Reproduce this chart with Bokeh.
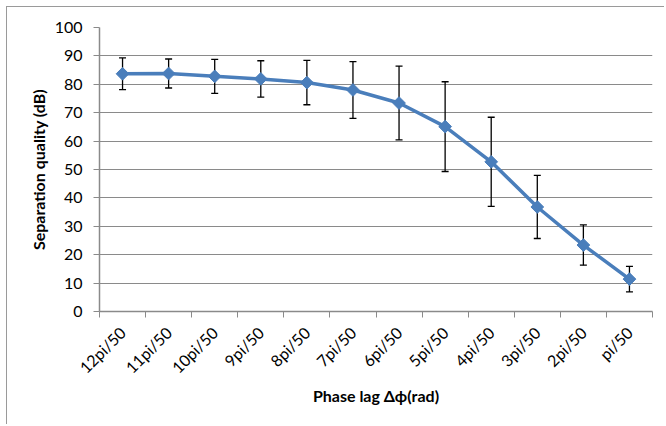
import numpy as np
from bokeh.plotting import figure
from bokeh.models import (ColumnDataSource, Range1d, FixedTicker, Whisker, TeeHead)
from bokeh.embed import file_html
from bokeh.resources import INLINE

categories = ["12pi/50", "11pi/50", "10pi/50", "9pi/50", "8pi/50", "7pi/50",
              "6pi/50", "5pi/50", "4pi/50", "3pi/50", "2pi/50", "pi/50"]
quality = [83.7, 83.8, 82.8, 81.9, 80.6, 78.0, 73.4, 65.1, 52.7, 36.8, 23.4, 11.4]
quality_err = [5.6, 5.1, 6.0, 6.4, 7.8, 10.0, 13.0, 15.8, 15.7, 11.1, 7.1, 4.5]
y_ticks = list(range(0, 101, 10))

n = len(categories)
xpos = np.arange(n) + 0.5
q = np.array(quality)
e = np.array(quality_err)
src = ColumnDataSource(dict(x=xpos, y=q, upper=q + e, lower=q - e))

FONT = "Lato"
GRID = "#8a8a8a"

p = figure(width=658, height=418, output_backend="svg", toolbar_location=None,
           x_range=Range1d(0, n), y_range=Range1d(0, 100),
           min_border_left=92, min_border_right=13, min_border_top=20,
           min_border_bottom=114, margin=(6, 0, 0, 6))
p.styles = {"border-left": "1px solid #9a9a9a", "border-top": "1px solid #9a9a9a"}
p.outline_line_color = None
p.background_fill_color = "white"
p.border_fill_color = "white"

# x axis: labels at category centres, tick marks at category boundaries
xa = p.xaxis[0]
xa.ticker = FixedTicker(ticks=list(xpos), minor_ticks=list(range(0, n + 1)))
xa.major_label_overrides = {float(x): c for x, c in zip(xpos, categories)}
xa.major_tick_line_color = None
xa.minor_tick_in = 0
xa.minor_tick_out = 6
xa.minor_tick_line_color = GRID
xa.axis_line_color = GRID
xa.axis_line_width = 1.5
xa.major_label_orientation = np.pi / 4
xa.major_label_standoff = 12
xa.major_label_text_font = FONT
xa.major_label_text_font_size = "16px"
xa.major_label_text_color = "black"
xa.axis_label = "Phase lag \u0394\u03d5(rad)"
xa.axis_label_text_font = FONT
xa.axis_label_text_font_style = "bold"
xa.axis_label_text_font_size = "16px"
xa.axis_label_text_color = "black"
xa.axis_label_standoff = 0

ya = p.yaxis[0]
ya.ticker = FixedTicker(ticks=y_ticks)
ya.minor_tick_line_color = None
ya.major_tick_in = 0
ya.major_tick_out = 6
ya.major_tick_line_color = GRID
ya.axis_line_color = GRID
ya.axis_line_width = 1.5
ya.major_label_standoff = 11
ya.major_label_text_font = FONT
ya.major_label_text_font_size = "16px"
ya.major_label_text_color = "black"
ya.axis_label = "Separation quality (dB)"
ya.axis_label_text_font = FONT
ya.axis_label_text_font_style = "bold"
ya.axis_label_text_font_size = "16px"
ya.axis_label_text_color = "black"
ya.axis_label_standoff = 4

p.xgrid.grid_line_color = None
p.ygrid.grid_line_color = GRID
p.ygrid.grid_line_width = 1

w = Whisker(source=src, base="x", upper="upper", lower="lower", dimension="height",
            line_color="black", line_width=1.3,
            upper_head=TeeHead(size=7, line_color="black", line_width=1.3),
            lower_head=TeeHead(size=7, line_color="black", line_width=1.3))
p.add_layout(w)

p.line("x", "y", source=src, line_color="#4a7ebb", line_width=3.5)
p.scatter("x", "y", source=src, marker="square", angle=np.pi / 4, size=9,
          fill_color="#4a7ebb", line_color="#4a7ebb")

open("out.html", "w").write(file_html(p, INLINE))
